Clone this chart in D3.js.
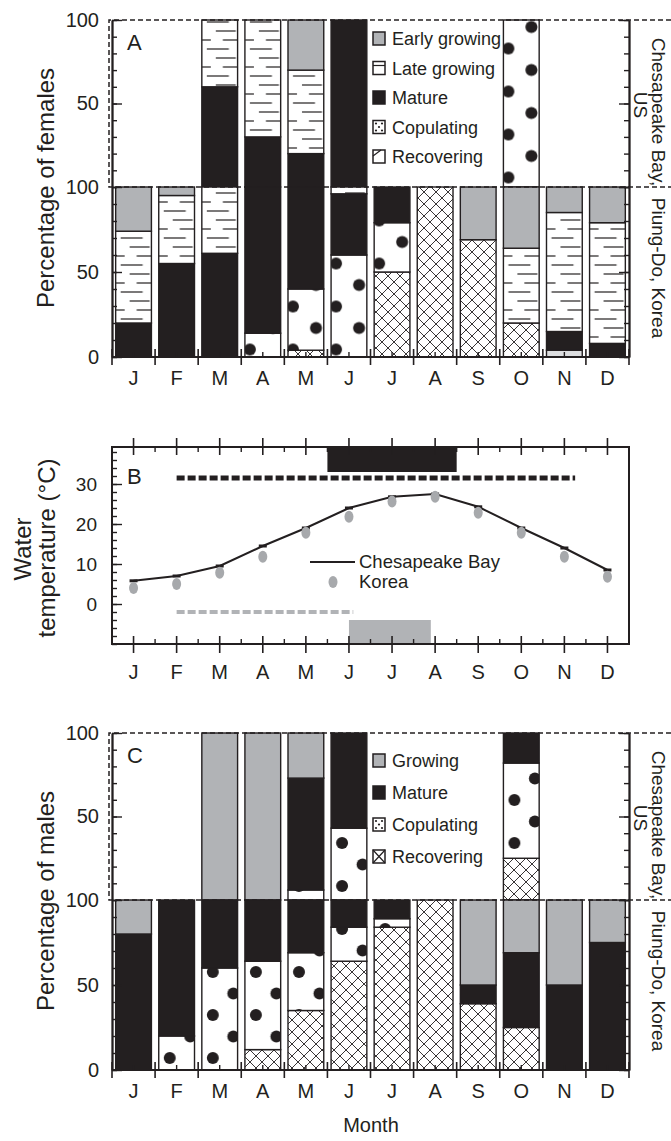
<!DOCTYPE html>
<html>
<head>
<meta charset="utf-8">
<script src="https://cdn.jsdelivr.net/npm/d3@7"></script>
<style>
body { margin: 0; background: #fff; }
text { font-family: "Liberation Sans", Arial, sans-serif; fill: #231f20; }
</style>
</head>
<body>
<div id="chart"></div>
<script>
const months = ["J","F","M","A","M","J","J","A","S","O","N","D"];

// females, % of animals in each stage; US = Chesapeake Bay, Kr = Piung-Do
const femUSRecovering = [0,0,0,0,0,0,0,0,0,0,0,0];
const femUSCopulating = [0,0,0,0,0,0,0,0,0,100,0,0];
const femUSMature     = [0,0,60,30,20,100,0,0,0,0,0,0];
const femUSLate       = [0,0,40,70,50,0,0,0,0,0,0,0];
const femUSEarly      = [0,0,0,0,30,0,0,0,0,0,0,0];

const femKrOther      = [0,0,0,0,0,0,0,0,0,0,4,0];
const femKrRecovering = [0,0,0,0,4,0,50,100,69,20,0,0];
const femKrCopulating = [0,0,0,14,36,60,29,0,0,0,0,0];
const femKrMature     = [20,55,61,86,60,36,21,0,0,0,11,8];
const femKrLate       = [54,40,39,0,0,4,0,0,0,44,70,71];
const femKrEarly      = [26,5,0,0,0,0,0,0,31,36,15,21];

// males
const maleUSRecovering = [0,0,0,0,0,0,0,0,0,25,0,0];
const maleUSCopulating = [0,0,0,0,6,43,0,0,0,57,0,0];
const maleUSMature     = [0,0,0,0,67,57,0,0,0,18,0,0];
const maleUSGrowing    = [0,0,100,100,27,0,0,0,0,0,0,0];

const maleKrRecovering = [0,0,0,12,35,64,84,100,39,25,0,0];
const maleKrCopulating = [0,20,60,52,34,20,5,0,0,0,0,0];
const maleKrMature     = [80,80,40,36,31,16,11,0,11,44,50,75];
const maleKrGrowing    = [20,0,0,0,0,0,0,0,50,31,50,25];

// water temperature (°C)
const cbTemp = [5.8,7,9.5,14.5,19,24,26.8,27.5,24.3,19,14,8.5];
const krTemp = [4,5,7.8,11.8,17.8,21.8,25.6,26.8,22.8,17.8,11.8,6.8];

// spawning periods in months (1 = middle of January)
const cbSeason = [2, 11.25];
const cbPeak   = [5.5, 8.5];
const krSeason = [2, 6.1];
const krPeak   = [6, 7.9];

const femKeys  = ["Other","Recovering","Copulating","Mature","Late growing","Early growing"];
const maleKeys = ["Recovering","Copulating","Mature","Growing"];
const femLegend  = ["Early growing","Late growing","Mature","Copulating","Recovering"];
const maleLegend = ["Growing","Mature","Copulating","Recovering"];
const pctLabels  = [0, 50, 100];
const tempLabels = [0, 10, 20, 30];

const ink = "#231f20", grey = "#b1b3b6";
const W = 671, H = 1141;

const svg = d3.select("#chart").append("svg")
    .attr("width", W).attr("height", H);

const x = d3.scaleBand().domain(d3.range(12)).range([112, 629])
    .paddingInner(0.17).paddingOuter(0.085);
const step = x.step();
const xm = d3.scaleLinear().domain([0.5, 12.5]).range([112, 629]);

// fill patterns
const defs = svg.append("defs");
const bl = x(0) - 112;

const late = defs.append("pattern").attr("id", "late")
    .attr("patternUnits", "userSpaceOnUse").attr("x", 112).attr("y", 0)
    .attr("width", step).attr("height", 27);
late.append("rect").attr("width", step).attr("height", 27).attr("fill", "#fff");
[[4, 14, 34], [13, 0, 9], [13, 21, 36], [22, 5, 27]].forEach(s => {
  late.append("line").attr("x1", bl + s[1]).attr("x2", bl + s[2])
      .attr("y1", s[0]).attr("y2", s[0]).attr("stroke", ink).attr("stroke-width", 1.2);
});

// dotted fill, one per figure panel (dots sit a little differently in each)
function copPattern(id, y0, dx1, dx2) {
  const p = defs.append("pattern").attr("id", id)
      .attr("patternUnits", "userSpaceOnUse").attr("x", 112).attr("y", y0)
      .attr("width", step).attr("height", 43);
  p.append("rect").attr("width", step).attr("height", 43).attr("fill", "#fff");
  [[bl + dx1, 10], [bl + dx2, 31.5]].forEach(c => {
    p.append("circle").attr("cx", c[0]).attr("cy", c[1]).attr("r", 6).attr("fill", ink);
  });
}
copPattern("copA", -4.5, 5, 28);
copPattern("copC", 16, 11, 31.5);

const rec = defs.append("pattern").attr("id", "rec")
    .attr("patternUnits", "userSpaceOnUse").attr("x", 112).attr("y", 0)
    .attr("width", 12).attr("height", 12);
rec.append("rect").attr("width", 12).attr("height", 12).attr("fill", "#fff");
rec.append("path").attr("d", "M0,0L12,12M12,0L0,12M-1,11L1,13M11,-1L13,1")
    .attr("stroke", ink).attr("stroke-width", 0.9);

const fill = {
  "Other": "#dcdddf",
  "Recovering": "url(#rec)",
  "Mature": ink,
  "Late growing": "url(#late)",
  "Early growing": grey,
  "Growing": grey
};

function stackBars(g, y, keys, cols, copFill) {
  const rows = months.map((m, i) => {
    const r = {i: i};
    keys.forEach((k, j) => { r[k] = cols[j][i]; });
    return r;
  });
  const layers = d3.stack().keys(keys)(rows);
  g.append("g").selectAll("g").data(layers).join("g")
      .attr("fill", d => d.key === "Copulating" ? copFill : fill[d.key])
    .selectAll("rect").data(d => d.filter(s => s[1] > s[0])).join("rect")
      .attr("x", d => x(d.data.i))
      .attr("width", x.bandwidth())
      .attr("y", d => y(d[1]))
      .attr("height", d => y(d[0]) - y(d[1]))
      .attr("stroke", ink).attr("stroke-width", 1.4);
}

function pctAxes(g, y, labels) {
  const left = g.append("g").attr("transform", "translate(112,0)");
  left.call(d3.axisLeft(y).tickValues(d3.range(0, 101, 10)).tickSize(-5)
      .tickSizeOuter(0).tickFormat(""));
  left.append("g").call(d3.axisLeft(y).tickValues(labels).tickSize(-10)
      .tickSizeOuter(0).tickPadding(13));
  const right = g.append("g").attr("transform", "translate(629,0)");
  right.call(d3.axisRight(y).tickValues(d3.range(0, 101, 10)).tickSize(-5)
      .tickSizeOuter(0).tickFormat(""));
  right.append("g").call(d3.axisRight(y).tickValues([0, 50, 100]).tickSize(-10)
      .tickSizeOuter(0).tickFormat(""));
  g.selectAll(".domain").attr("stroke", ink).attr("stroke-width", 1.8);
  g.selectAll(".tick line").attr("stroke", ink).attr("stroke-width", 1.4);
  g.selectAll(".tick text").style("font-size", "20px").attr("fill", ink);
}

function monthAxis(g, y0, inward, outward, pad) {
  const ax = g.append("g").attr("transform", `translate(0,${y0})`);
  ax.call(d3.axisBottom(x).tickSize(-5).tickSizeOuter(0)
      .tickFormat(i => months[i]).tickPadding(pad));
  ax.select(".domain").attr("d", "M112,0H629").attr("stroke", ink).attr("stroke-width", 1.8);
  ax.selectAll(".tick line").attr("stroke", ink).attr("stroke-width", 1.4);
  ax.selectAll(".tick text").style("font-size", "20px").attr("fill", ink);
  ax.selectAll("line.bound").data(d3.range(13)).join("line").attr("class", "bound")
      .attr("x1", i => xm(i + 0.5)).attr("x2", i => xm(i + 0.5))
      .attr("y1", -inward).attr("y2", outward)
      .attr("stroke", ink).attr("stroke-width", 1.6);
}

function legend(g, names, x0, y0, gap, female) {
  const item = g.selectAll("g.leg").data(names).join("g").attr("class", "leg")
      .attr("transform", (d, i) => `translate(${x0},${y0 + i * gap})`);
  item.append("rect").attr("x", 0).attr("y", -13).attr("width", 12).attr("height", 13)
      .attr("fill", d => (d === "Mature" ? ink : d.indexOf("rowing") > 0 && d !== "Late growing" ? grey : "#fff"))
      .attr("stroke", ink).attr("stroke-width", 1.5);
  item.filter(d => d === "Late growing").append("line")
      .attr("x1", 0).attr("x2", 12).attr("y1", -9).attr("y2", -9)
      .attr("stroke", ink).attr("stroke-width", 1.2);
  item.filter(d => d === "Copulating").selectAll("circle")
      .data([[3, -10], [9, -10], [6, -6.5], [3, -3], [9, -3]]).join("circle")
      .attr("cx", p => p[0]).attr("cy", p => p[1]).attr("r", 1.1).attr("fill", ink);
  item.filter(d => d === "Recovering").append("path")
      .attr("d", female ? "M0,-7L8,-13" : "M0,-13L12,0M12,-13L0,0")
      .attr("fill", "none").attr("stroke", ink).attr("stroke-width", 1.2);
  item.append("text").attr("x", 19).attr("y", 0).style("font-size", "18px").text(d => d);
}

function pctPanel(top, letter, title, usKeys, usCols, krKeys, krCols, legNames, legGap, female) {
  const g = svg.append("g");
  const yUS = d3.scaleLinear().domain([0, 100]).range([top + 167, top]);
  const yKr = d3.scaleLinear().domain([0, 100]).range([top + 337, top + 167]);
  const copFill = `url(#cop${letter})`;

  stackBars(g, yUS, usKeys, usCols, copFill);
  stackBars(g, yKr, krKeys, krCols, copFill);

  pctAxes(g.append("g"), yUS, [50, 100]);
  pctAxes(g.append("g"), yKr, pctLabels);
  monthAxis(g, top + 337, 8, 8, 14);

  // dashed frame around the Chesapeake Bay panel
  g.append("path")
      .attr("d", `M671,${top}H109V${top + 167}H671`)
      .attr("fill", "none").attr("stroke", ink).attr("stroke-width", 1.5)
      .attr("stroke-dasharray", "5,3");

  g.append("text").attr("x", 127).attr("y", top + 30).style("font-size", "22px").text(letter);
  g.append("text").attr("transform", `translate(54,${top + 168}) rotate(-90)`)
      .attr("text-anchor", "middle").style("font-size", "24px").text(title);

  g.append("text").attr("transform", `translate(652,${top + 92}) rotate(90)`)
      .attr("text-anchor", "middle").style("font-size", "19px").text("Chesapeake Bay,");
  g.append("text").attr("transform", `translate(634,${top + 85}) rotate(90)`)
      .attr("text-anchor", "middle").style("font-size", "19px").text("US");
  g.append("text").attr("transform", `translate(652,${top + 248}) rotate(90)`)
      .attr("text-anchor", "middle").style("font-size", "19px").text("Piung-Do, Korea");

  legend(g.append("g"), legNames, 373, top + (female ? 25 : 34), legGap, female);
}

// A: females
pctPanel(20, "A", "Percentage of females",
  ["Recovering","Copulating","Mature","Late growing","Early growing"],
  [femUSRecovering, femUSCopulating, femUSMature, femUSLate, femUSEarly],
  femKeys,
  [femKrOther, femKrRecovering, femKrCopulating, femKrMature, femKrLate, femKrEarly],
  femLegend, 29.5, true);

// C: males
pctPanel(733, "C", "Percentage of males",
  maleKeys, [maleUSRecovering, maleUSCopulating, maleUSMature, maleUSGrowing],
  maleKeys, [maleKrRecovering, maleKrCopulating, maleKrMature, maleKrGrowing],
  maleLegend, 32, false);

svg.append("text").attr("x", 371).attr("y", 1132).attr("text-anchor", "middle")
    .style("font-size", "20px").text("Month");

// B: water temperature
const b = svg.append("g");
const yT = d3.scaleLinear().domain([-10, 39.25]).range([644, 447]);

b.append("rect").attr("x", xm(cbPeak[0])).attr("width", xm(cbPeak[1]) - xm(cbPeak[0]))
    .attr("y", yT(39.25)).attr("height", yT(33) - yT(39.25)).attr("fill", ink);
b.append("rect").attr("x", xm(krPeak[0])).attr("width", xm(krPeak[1]) - xm(krPeak[0]))
    .attr("y", yT(-4)).attr("height", yT(-10) - yT(-4)).attr("fill", grey);
b.append("line").attr("x1", xm(cbSeason[0])).attr("x2", xm(cbSeason[1]))
    .attr("y1", yT(31.5)).attr("y2", yT(31.5))
    .attr("stroke", ink).attr("stroke-width", 5).attr("stroke-dasharray", "8,3");
b.append("line").attr("x1", xm(krSeason[0])).attr("x2", xm(krSeason[1]))
    .attr("y1", yT(-2)).attr("y2", yT(-2))
    .attr("stroke", grey).attr("stroke-width", 4).attr("stroke-dasharray", "8,3");

b.append("rect").attr("x", 112).attr("y", 447).attr("width", 517).attr("height", 197)
    .attr("fill", "none").attr("stroke", ink).attr("stroke-width", 2);

const bl1 = b.append("g").attr("transform", "translate(112,0)");
bl1.call(d3.axisLeft(yT).tickValues(d3.range(-10, 39, 2)).tickSize(-5).tickSizeOuter(0).tickFormat(""));
bl1.append("g").call(d3.axisLeft(yT).tickValues(tempLabels).tickSize(-10).tickSizeOuter(0).tickPadding(15));
bl1.selectAll(".domain").remove();
bl1.selectAll(".tick line").attr("stroke", ink).attr("stroke-width", 1.4);
bl1.selectAll(".tick text").style("font-size", "19px").attr("fill", ink);

[[447, 1], [644, -1]].forEach(([y0, dir]) => {
  b.append("g").selectAll("line").data(d3.range(1, 13)).join("line")
      .attr("x1", m => xm(m)).attr("x2", m => xm(m))
      .attr("y1", y0 - 9 * dir).attr("y2", y0 + 8 * dir)
      .attr("stroke", ink).attr("stroke-width", 1.6);
  b.append("g").selectAll("line").data(d3.range(1, 12)).join("line")
      .attr("x1", m => xm(m + 0.5)).attr("x2", m => xm(m + 0.5))
      .attr("y1", y0).attr("y2", y0 + 5 * dir)
      .attr("stroke", ink).attr("stroke-width", 1.4);
});
b.append("g").selectAll("text").data(months).join("text")
    .attr("x", (d, i) => xm(i + 1)).attr("y", 679).attr("text-anchor", "middle")
    .style("font-size", "20px").text(d => d);

b.append("path").datum(cbTemp)
    .attr("d", d3.line().x((d, i) => xm(i + 1)).y(d => yT(d)))
    .attr("fill", "none").attr("stroke", ink).attr("stroke-width", 2);
b.append("g").selectAll("rect").data(cbTemp).join("rect")
    .attr("x", (d, i) => xm(i + 1) - 4).attr("y", d => yT(d) - 1.5)
    .attr("width", 8).attr("height", 3).attr("fill", ink);
b.append("g").selectAll("ellipse").data(krTemp).join("ellipse")
    .attr("cx", (d, i) => xm(i + 1)).attr("cy", d => yT(d))
    .attr("rx", 4.5).attr("ry", 6).attr("fill", "#a7a9ac");

b.append("line").attr("x1", 310).attr("x2", 355).attr("y1", 562).attr("y2", 562)
    .attr("stroke", ink).attr("stroke-width", 2);
b.append("text").attr("x", 359).attr("y", 568).style("font-size", "18.5px").text("Chesapeake Bay");
b.append("ellipse").attr("cx", 333).attr("cy", 582).attr("rx", 4.5).attr("ry", 6).attr("fill", "#a7a9ac");
b.append("text").attr("x", 359).attr("y", 588).style("font-size", "18.5px").text("Korea");

b.append("text").attr("x", 127).attr("y", 484).style("font-size", "22px").text("B");
b.append("text").attr("transform", "translate(31,549) rotate(-90)")
    .attr("text-anchor", "middle").style("font-size", "24px").text("Water");
b.append("text").attr("transform", "translate(55,548) rotate(-90)")
    .attr("text-anchor", "middle").style("font-size", "24px").text("temperature (°C)");
</script>
</body>
</html>
